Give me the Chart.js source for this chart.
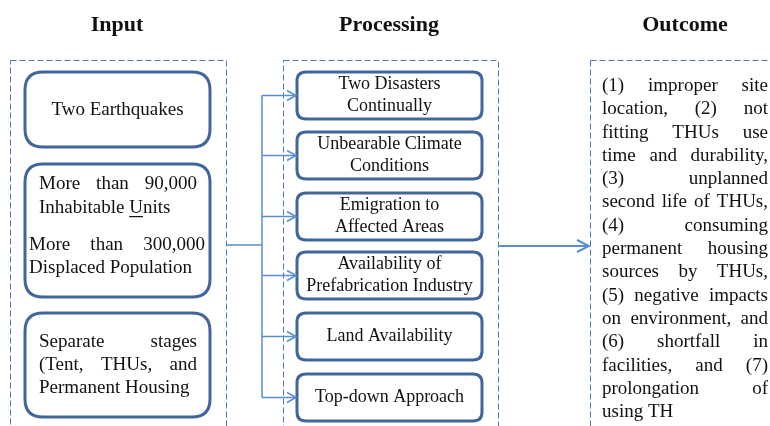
<!DOCTYPE html>
<html>
<head>
<meta charset="utf-8">
<script src="https://cdn.jsdelivr.net/npm/chart.js@4.4.0/dist/chart.umd.min.js"></script>
<style>
    html, body { margin: 0; padding: 0; background: #ffffff; }
    #wrap { width: 770px; height: 426px; }
</style>
</head>
<body>
<div id="wrap"><canvas id="flowChart" width="770" height="426"></canvas></div>
<script>
// Texts of the diagram
const headings = ['Input', 'Processing', 'Outcome'];

// each input box = list of paragraphs, each paragraph = list of lines
const inputItems = [
    [['Two Earthquakes']],
    [['More than 90,000', 'Inhabitable Units'], ['More than 300,000', 'Displaced Population']],
    [['Separate stages', '(Tent, THUs, and', 'Permanent Housing']]
];

const processingItems = [
    ['Two Disasters', 'Continually'],
    ['Unbearable Climate', 'Conditions'],
    ['Emigration to', 'Affected Areas'],
    ['Availability of', 'Prefabrication Industry'],
    ['Land Availability'],
    ['Top-down Approach']
];

const outcomeLines = [
    '(1) improper site',
    'location, (2) not',
    'fitting THUs use',
    'time and durability,',
    '(3) unplanned',
    'second life of THUs,',
    '(4) consuming',
    'permanent housing',
    'sources by THUs,',
    '(5) negative impacts',
    'on environment, and',
    '(6) shortfall in',
    'facilities, and (7)',
    'prolongation of',
    'using TH'
];

// Layout (diagram units = pixels of the reference)
const layout = {
    headingX: [117, 389, 685],
    headingY: 25,
    panels: [[10, 60, 226, 440], [283, 60, 498, 440], [590, 60, 780, 440]],
    inputBoxes: [[25, 72, 210, 147], [25, 164, 210, 297], [25, 313, 210, 417]],
    inputText: [
        [{ x0: 39, x1: 197, y: [110] }],
        [{ x0: 39, x1: 197, y: [184, 208] }, { x0: 29, x1: 205, y: [245, 268] }],
        [{ x0: 39, x1: 197, y: [342, 365, 388] }]
    ],
    procX: [297, 482],
    procTops: [72, 132, 193, 252, 313, 374],
    procH: 47,
    busX: 262,
    linkY: 245,
    outX: [602, 768],
    outY0: 86,
    outStep: 23.3
};

const serif = "'Liberation Serif', 'Times New Roman', serif";
const boxColor = '#41669b';
const dashColor = '#4d78b3';
const linkColor = '#5b8dd3';
const textColor = '#111111';

function roundRect(ctx, x0, y0, x1, y1, r) {
    ctx.beginPath();
    ctx.moveTo(x0 + r, y0);
    ctx.lineTo(x1 - r, y0);
    ctx.quadraticCurveTo(x1, y0, x1, y0 + r);
    ctx.lineTo(x1, y1 - r);
    ctx.quadraticCurveTo(x1, y1, x1 - r, y1);
    ctx.lineTo(x0 + r, y1);
    ctx.quadraticCurveTo(x0, y1, x0, y1 - r);
    ctx.lineTo(x0, y0 + r);
    ctx.quadraticCurveTo(x0, y0, x0 + r, y0);
    ctx.closePath();
}

// draw a line spread over x0..x1 (justified), or left aligned
function drawLine(ctx, text, x0, x1, y, justify) {
    const words = text.split(' ');
    if (!justify || words.length < 2) {
        ctx.textAlign = 'left';
        ctx.fillText(text, x0, y);
        return;
    }
    const widths = words.map(w => ctx.measureText(w).width);
    const total = widths.reduce((a, b) => a + b, 0);
    const gap = (x1 - x0 - total) / (words.length - 1);
    let x = x0;
    ctx.textAlign = 'left';
    words.forEach((w, i) => {
        ctx.fillText(w, x, y);
        x += widths[i] + gap;
    });
}

function arrowHead(ctx, x, y, len, half) {
    ctx.beginPath();
    ctx.moveTo(x - len, y - half);
    ctx.lineTo(x, y);
    ctx.lineTo(x - len, y + half);
    ctx.stroke();
}

const diagramPlugin = {
    id: 'diagram',
    afterDraw(chart) {
        const ctx = chart.ctx;
        const sx = v => chart.scales.x.getPixelForValue(v);
        const sy = v => chart.scales.y.getPixelForValue(v);
        ctx.save();
        ctx.textBaseline = 'middle';

        // headings
        ctx.fillStyle = textColor;
        ctx.font = 'bold 22px ' + serif;
        ctx.textAlign = 'center';
        headings.forEach((h, i) => ctx.fillText(h, sx(layout.headingX[i]), sy(layout.headingY)));

        // dashed panels
        ctx.strokeStyle = dashColor;
        ctx.lineWidth = 1;
        ctx.setLineDash([6, 3]);
        layout.panels.forEach(p => {
            ctx.strokeRect(sx(p[0]) + 0.5, sy(p[1]) + 0.5, sx(p[2]) - sx(p[0]), sy(p[3]) - sy(p[1]));
        });
        ctx.setLineDash([]);

        // input boxes
        ctx.strokeStyle = boxColor;
        ctx.lineWidth = 3;
        layout.inputBoxes.forEach(b => {
            roundRect(ctx, sx(b[0]), sy(b[1]), sx(b[2]), sy(b[3]), 18);
            ctx.stroke();
        });
        ctx.fillStyle = textColor;
        ctx.font = '19px ' + serif;
        inputItems.forEach((paras, bi) => {
            const single = paras.length === 1 && paras[0].length === 1;
            paras.forEach((lines, pi) => {
                const t = layout.inputText[bi][pi];
                lines.forEach((line, li) => {
                    if (single) {
                        ctx.textAlign = 'center';
                        ctx.fillText(line, (sx(layout.inputBoxes[bi][0]) + sx(layout.inputBoxes[bi][2])) / 2, sy(t.y[li]));
                    } else {
                        drawLine(ctx, line, sx(t.x0), sx(t.x1), sy(t.y[li]), li < lines.length - 1);
                    }
                    if (line === 'Inhabitable Units') {
                        // underlined U of "Units"
                        const ux = sx(t.x0) + ctx.measureText('Inhabitable ').width;
                        const uw = ctx.measureText('U').width;
                        ctx.fillRect(ux, sy(t.y[li]) + 8, uw, 1.2);
                    }
                });
            });
        });

        // processing boxes
        ctx.strokeStyle = boxColor;
        ctx.lineWidth = 3;
        ctx.font = '18px ' + serif;
        processingItems.forEach((lines, i) => {
            const top = layout.procTops[i];
            roundRect(ctx, sx(layout.procX[0]), sy(top), sx(layout.procX[1]), sy(top + layout.procH), 9);
            ctx.stroke();
            const cy = top + layout.procH / 2;
            const cx = (sx(layout.procX[0]) + sx(layout.procX[1])) / 2;
            ctx.textAlign = 'center';
            lines.forEach((line, li) => {
                const off = (li - (lines.length - 1) / 2) * 22;
                ctx.fillText(line, cx, sy(cy + off));
            });
        });

        // connectors
        ctx.strokeStyle = linkColor;
        ctx.lineWidth = 1.5;
        const ys = layout.procTops.map(t => t + layout.procH / 2);
        ctx.beginPath();
        ctx.moveTo(sx(226), sy(layout.linkY));
        ctx.lineTo(sx(layout.busX), sy(layout.linkY));
        ctx.moveTo(sx(layout.busX), sy(ys[0]));
        ctx.lineTo(sx(layout.busX), sy(ys[ys.length - 1]));
        ys.forEach(y => {
            ctx.moveTo(sx(layout.busX), sy(y));
            ctx.lineTo(sx(layout.procX[0]) - 1, sy(y));
        });
        ctx.stroke();
        ys.forEach(y => arrowHead(ctx, sx(layout.procX[0]) - 1, sy(y), 9, 5));

        ctx.lineWidth = 2;
        ctx.beginPath();
        ctx.moveTo(sx(498), sy(layout.linkY + 1));
        ctx.lineTo(sx(589), sy(layout.linkY + 1));
        ctx.stroke();
        arrowHead(ctx, sx(589), sy(layout.linkY + 1), 12, 6);

        // outcome text
        ctx.fillStyle = textColor;
        ctx.font = '19px ' + serif;
        outcomeLines.forEach((line, i) => {
            drawLine(ctx, line, sx(layout.outX[0]), sx(layout.outX[1]),
                sy(layout.outY0 + i * layout.outStep), i < outcomeLines.length - 1);
        });

        ctx.restore();
    }
};

document.addEventListener('DOMContentLoaded', () => {
    const ctx = document.getElementById('flowChart').getContext('2d');
    new Chart(ctx, {
        type: 'scatter',
        data: { datasets: [{ data: [], pointRadius: 0 }] },
        options: {
            responsive: false,
            animation: false,
            layout: { padding: 0 },
            plugins: { legend: { display: false }, tooltip: { enabled: false } },
            scales: {
                x: { type: 'linear', min: 0, max: 770, display: false },
                y: { type: 'linear', min: 0, max: 426, reverse: true, display: false }
            }
        },
        plugins: [diagramPlugin]
    });
});
</script>
</body>
</html>
